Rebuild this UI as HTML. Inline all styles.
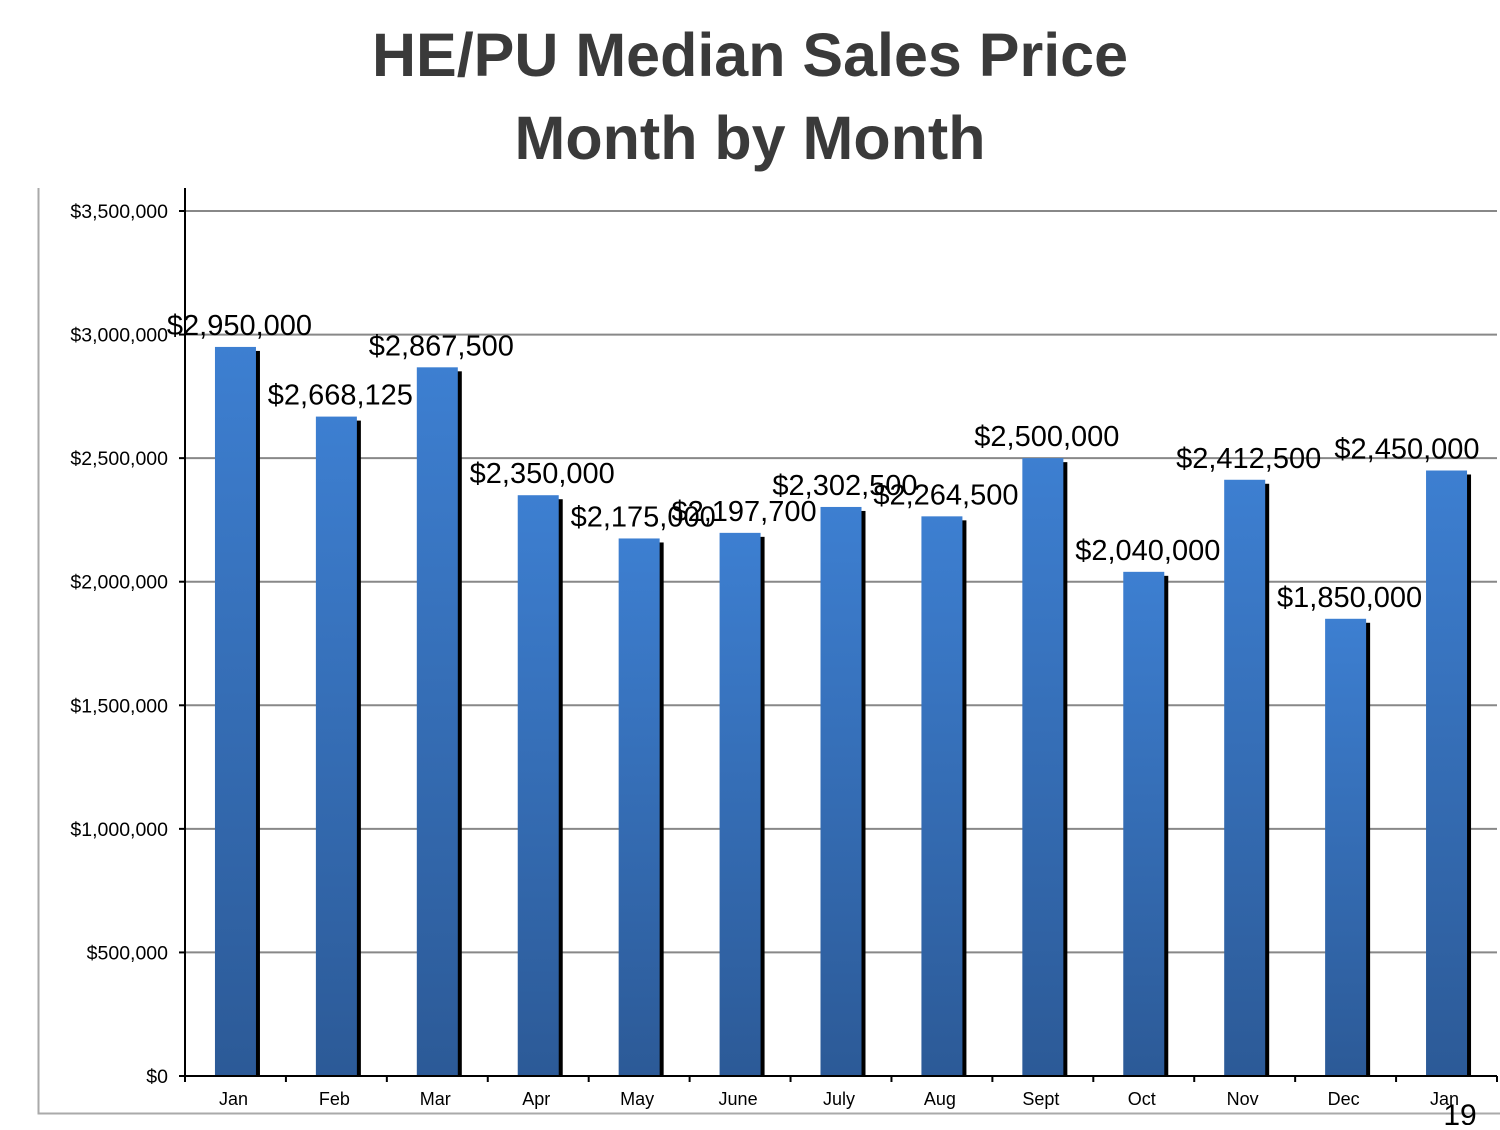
<!DOCTYPE html>
<html><head><meta charset="utf-8"><style>
body{margin:0;background:#fff;width:1500px;height:1125px;overflow:hidden;font-family:"Liberation Sans",sans-serif}
</style></head><body>
<svg width="1500" height="1125">
<defs><linearGradient id="g" x1="0" y1="0" x2="0" y2="1"><stop offset="0" stop-color="#3d7fd1"/><stop offset="1" stop-color="#2c5a97"/></linearGradient></defs>
<text x="750" y="76" text-anchor="middle" font-size="61" font-weight="bold" fill="#3a3a3a">HE/PU Median Sales Price</text>
<text x="750" y="159" text-anchor="middle" font-size="61" font-weight="bold" fill="#3a3a3a">Month by Month</text>
<path d="M38.5 188 V1113.5 H1500" fill="none" stroke="#aaa" stroke-width="2"/>
<g id="grid"></g><g id="bars"></g><g id="axes"></g>
<text x="1460" y="1125" text-anchor="middle" font-size="30" fill="#000">19</text>
</svg>
<script>
const categories=["Jan","Feb","Mar","Apr","May","June","July","Aug","Sept","Oct","Nov","Dec","Jan"];
const values=[2950000,2668125,2867500,2350000,2175000,2197700,2302500,2264500,2500000,2040000,2412500,1850000,2450000];
const ticks=[0,500000,1000000,1500000,2000000,2500000,3000000,3500000];
const X0=185,X1=1497,Y0=1076,Y1=211,MAX=3500000;
const band=(X1-X0)/categories.length;
const y=v=>Y0-(v/MAX)*(Y0-Y1);
const xc=i=>X0+band*(i+0.5);
const NS="http://www.w3.org/2000/svg";
function mk(t,a,p){const e=document.createElementNS(NS,t);for(const k in a)e.setAttribute(k,a[k]);p.appendChild(e);return e;}
const fmt=v=>"$"+v.toLocaleString("en-US");
const G=document.getElementById("grid"),B=document.getElementById("bars"),A=document.getElementById("axes");
ticks.forEach(t=>{
  if(t>0){const l=mk("line",{x1:X0,x2:X1,y1:y(t),y2:y(t),stroke:"#888","stroke-width":2},G);
  
  }
  const tk=mk("line",{x1:X0-6,x2:X0,y1:y(t),y2:y(t),stroke:"#000","stroke-width":2},A);
  
  
  const tx=mk("text",{x:X0-17,y:y(t)+7,"text-anchor":"end","font-size":19.5,fill:"#000"},A);
  tx.textContent=fmt(t);
  
  
});
mk("line",{x1:X0,x2:X0,y1:188,y2:Y0,stroke:"#000","stroke-width":2},A);
mk("line",{x1:X0-6,x2:X1,y1:Y0,y2:Y0,stroke:"#000","stroke-width":2},A);
for(let i=0;i<=categories.length;i++){
  const tk=mk("line",{x1:X0+band*i,x2:X0+band*i,y1:Y0,y2:Y0+6,stroke:"#000","stroke-width":2},A);
  
  
}
const bw=41;
values.forEach((v,i)=>{
  const cx=xc(i);
  const sh=mk("rect",{x:cx-bw/2+4,y:y(v)+4,width:bw,height:Y0-y(v)-4,fill:"#000"},B);
  
  
  const r=mk("rect",{x:cx-bw/2,y:y(v),width:bw,height:Y0-y(v),fill:"url(#g)"},B);
  
  
  const lx=Math.min(cx+4,1480-73);
  const lb=mk("text",{x:lx,y:y(v)-12,"text-anchor":"middle","font-size":29,fill:"#000"},B);
  lb.textContent=fmt(v);
  
  
  const cl=mk("text",{x:cx-2,y:Y0+29,"text-anchor":"middle","font-size":18,fill:"#000"},A);
  cl.textContent=categories[i];
  
  
});
</script>
</body></html>
